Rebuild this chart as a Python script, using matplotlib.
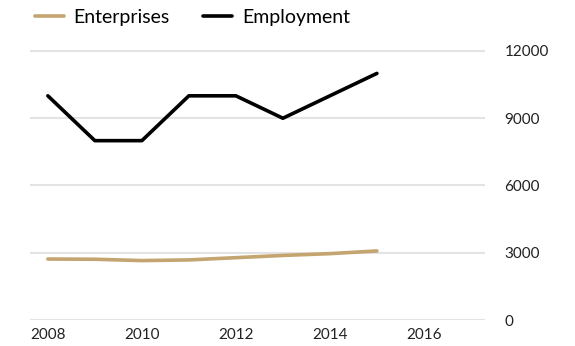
import matplotlib
matplotlib.use('Agg')
import matplotlib.pyplot as plt

plt.rcParams['font.family'] = ['Lato', 'DejaVu Sans']

years = [2008, 2009, 2010, 2011, 2012, 2013, 2014, 2015]
enterprises = [2720, 2710, 2650, 2680, 2780, 2880, 2960, 3080]
employment = [10000, 8000, 8000, 10000, 10000, 9000, 10000, 11000]
y_ticks = [0, 3000, 6000, 9000, 12000]
x_ticks = [2008, 2010, 2012, 2014, 2016]

fig = plt.figure(figsize=(5.75, 3.46), dpi=100)
ax = fig.add_axes([30 / 575, 26 / 346, 455 / 575, 280 / 346])

ax.plot(years, enterprises, color='#c4a46f', lw=2.6, label='Enterprises', solid_capstyle='round')
ax.plot(years, employment, color='black', lw=2.6, label='Employment', solid_capstyle='round')

ax.set_xlim(2007.62, 2017.3)
ax.set_ylim(0, 12490)
ax.set_yticks(y_ticks)
ax.set_xticks(x_ticks)
ax.yaxis.tick_right()
ax.tick_params(axis='both', length=0, labelsize=11, colors='#222222')
ax.tick_params(axis='y', pad=14)
ax.tick_params(axis='x', pad=6)
ax.grid(axis='y', color='#e3e3e3', lw=1.5)
ax.axhline(0, color='black', lw=2, zorder=1)
for s in ax.spines.values():
    s.set_visible(False)

fig.legend(loc='upper left', bbox_to_anchor=(0.03, 1.025), ncol=2, frameon=False,
           fontsize=14, handlelength=1.5, columnspacing=1.7, handletextpad=0.5)

fig.savefig('out.png', dpi=100)
